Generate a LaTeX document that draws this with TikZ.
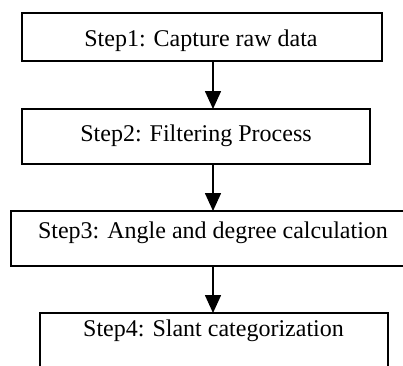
\documentclass[tikz,border=0pt]{standalone}
\usepackage{fontspec}
\setmainfont{Liberation Serif}
\usetikzlibrary{arrows.meta}
\tikzset{
  stepbox/.style={draw=black, line width=1.6pt, rectangle, inner sep=0pt, fill=none},
  steptext/.style={anchor=base, inner sep=0pt, font=\fontsize{24}{28}\selectfont},
  flow/.style={draw=black, line width=1.6pt, -{Triangle[length=18pt,width=16pt]}, shorten >=-0.8pt}
}
\begin{document}
\begin{tikzpicture}[x=1pt, y=-1pt]
\useasboundingbox (0,0) rectangle (403,365);
\fill[white] (0,0) rectangle (403,365);
\begin{scope}
\clip (0,0) rectangle (403,365);
\node[stepbox, minimum width=360pt, minimum height=48pt] (b1) at (202,37) {};
\node[stepbox, minimum width=348pt, minimum height=55pt] (b2) at (196,136.5) {};
\node[stepbox, minimum width=404pt, minimum height=55pt] (b3) at (213,238.5) {};
\node[stepbox, minimum width=348pt, minimum height=70pt] (b4) at (214,348) {};
\node[steptext] (t1) at (201,46.7) {Step1: Capture raw data};
\node[steptext] (t2) at (196,141.7) {Step2: Filtering Process};
\node[steptext] (t3) at (213,238.3) {Step3: Angle and degree calculation};
\node[steptext] (t4) at (213.5,336.7) {Step4: Slant categorization};
\coordinate (ax) at (213,0);
\draw[flow] (b1.south -| ax) -- (b2.north -| ax);
\draw[flow] (b2.south -| ax) -- (b3.north -| ax);
\draw[flow] (b3.south -| ax) -- (b4.north -| ax);
\end{scope}
\end{tikzpicture}
\end{document}
